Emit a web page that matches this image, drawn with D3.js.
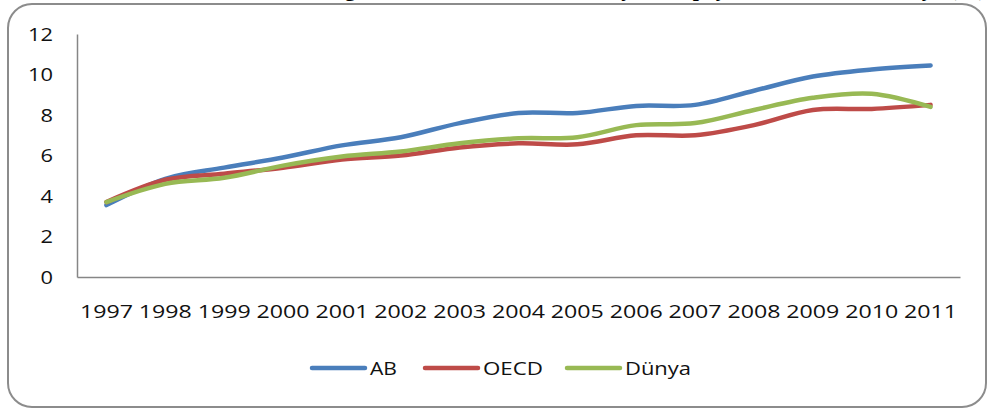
<!DOCTYPE html>
<html>
<head>
<meta charset="utf-8">
<script src="https://cdn.jsdelivr.net/npm/d3@7"></script>
<style>
  body { margin: 0; background: #fff; }
  svg { display: block; }
</style>
</head>
<body>
<div id="chart"></div>
<script>
// data
var years = ["1997","1998","1999","2000","2001","2002","2003","2004","2005","2006","2007","2008","2009","2010","2011"];
var ab    = [3.55, 4.85, 5.4, 5.9, 6.5, 6.9, 7.6, 8.1, 8.1, 8.45, 8.5, 9.2, 9.9, 10.25, 10.45];
var oecd  = [3.7, 4.8, 5.1, 5.4, 5.8, 6.0, 6.4, 6.6, 6.55, 7.0, 7.0, 7.5, 8.25, 8.3, 8.5];
var dunya = [3.7, 4.6, 4.9, 5.5, 5.95, 6.2, 6.6, 6.85, 6.9, 7.5, 7.6, 8.25, 8.85, 9.05, 8.4];
var seriesNames = ["AB", "OECD", "Dünya"];
var yTicks = [0, 2, 4, 6, 8, 10, 12];

var colors = ["#4a7ebb", "#be4b48", "#98b954"];
var fontFamily = "'Open Sans', sans-serif";
var textColor = "#111";

const width = 988;
const height = 409;

var svg = d3.select("#chart")
  .append("svg")
  .attr("width", width)
  .attr("height", height);

// title is cut off by the top of the picture, only descenders show
svg.append("text")
  .attr("x", 986)
  .attr("y", -4)
  .attr("text-anchor", "end")
  .style("font-family", "'Liberation Serif', serif")
  .style("font-weight", "bold")
  .style("font-size", "22px")
  .text("Sağlık Harcamalarının GSYH İçindeki payı: AB, OECD ve Dünya (%)");

// rounded frame
svg.append("rect")
  .attr("x", 8)
  .attr("y", 4)
  .attr("width", 978)
  .attr("height", 403)
  .attr("rx", 24)
  .attr("fill", "none")
  .attr("stroke", "#8c8c8c")
  .attr("stroke-width", 2);

// plot area
var plotLeft = 77, plotRight = 960, plotTop = 34, plotBottom = 277;

var x = d3.scaleBand()
  .domain(years)
  .range([plotLeft, plotRight]);

var y = d3.scaleLinear()
  .domain([0, 12])
  .range([plotBottom, plotTop]);

var axisColor = "#868686";

// y axis
var yAxis = svg.append("g")
  .attr("transform", "translate(" + plotLeft + ",0)")
  .call(d3.axisLeft(y).tickValues(yTicks).tickSize(0).tickPadding(24));
yAxis.select(".domain").attr("stroke", axisColor).attr("stroke-width", 1.5);
yAxis.selectAll("text")
  .style("font-family", fontFamily)
  .style("font-size", "19px")
  .attr("fill", textColor)
  .attr("textLength", function(d){ return String(d).length * 12.5; })
  .attr("lengthAdjust", "spacingAndGlyphs");

// x axis
var xAxis = svg.append("g")
  .attr("transform", "translate(0," + plotBottom + ")")
  .call(d3.axisBottom(x).tickSize(0).tickPadding(28));
xAxis.select(".domain").attr("stroke", axisColor).attr("stroke-width", 1.5);
xAxis.selectAll("text")
  .style("font-family", fontFamily)
  .style("font-size", "19px")
  .attr("fill", textColor)
  .attr("textLength", 53)
  .attr("lengthAdjust", "spacingAndGlyphs");

// lines
var allSeries = [ab, oecd, dunya];

var line = d3.line()
  .x(function(d, i){ return x(years[i]) + x.bandwidth() / 2; })
  .y(function(d){ return y(d); })
  .curve(d3.curveCatmullRom.alpha(0));

svg.selectAll(".series")
  .data(allSeries)
  .enter().append("path")
  .attr("class", "series")
  .attr("d", line)
  .attr("fill", "none")
  .attr("stroke", function(d, i){ return colors[i]; })
  .attr("stroke-width", 4.5)
  .attr("stroke-linecap", "round")
  .attr("stroke-linejoin", "round");

// legend
var legendX = [312, 425, 567];
var legendY = 368;

var legend = svg.selectAll(".legend")
  .data(seriesNames)
  .enter().append("g")
  .attr("class", "legend")
  .attr("transform", function(d, i){ return "translate(" + legendX[i] + "," + legendY + ")"; });

legend.append("line")
  .attr("x1", 0)
  .attr("x2", 53)
  .attr("stroke", function(d, i){ return colors[i]; })
  .attr("stroke-width", 4.5)
  .attr("stroke-linecap", "round");

legend.append("text")
  .attr("x", 58)
  .attr("dy", "0.35em")
  .style("font-family", fontFamily)
  .style("font-size", "19px")
  .attr("fill", textColor)
  .attr("textLength", function(d){ return {"AB": 27, "OECD": 60, "Dünya": 66}[d]; })
  .attr("lengthAdjust", "spacingAndGlyphs")
  .text(function(d){ return d; });
</script>
</body>
</html>
